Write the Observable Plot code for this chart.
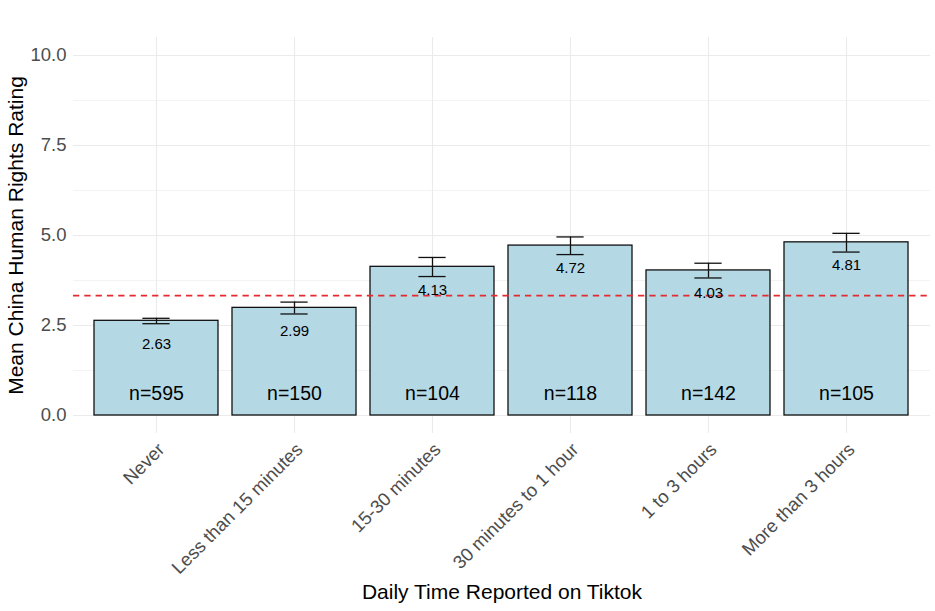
<!DOCTYPE html>
<html>
<head>
<meta charset="utf-8">
<script src="https://cdn.jsdelivr.net/npm/d3@7"></script>
<script src="https://cdn.jsdelivr.net/npm/@observablehq/plot@0.6"></script>
<style>
  html, body { margin: 0; padding: 0; background: #fff; }
  #chart svg { display: block; }
</style>
</head>
<body>
<div id="chart"></div>
<script>
const categories = ["Never", "Less than 15 minutes", "15-30 minutes", "30 minutes to 1 hour", "1 to 3 hours", "More than 3 hours"];
const means = [2.63, 2.99, 4.13, 4.72, 4.03, 4.81];
const lowerCI = [2.55, 2.82, 3.86, 4.47, 3.82, 4.54];
const upperCI = [2.70, 3.15, 4.39, 4.96, 4.23, 5.06];
const counts = [595, 150, 104, 118, 142, 105];
const overallMean = 3.33;
const yTicks = [0, 2.5, 5, 7.5, 10];
const yMinorTicks = [1.25, 3.75, 6.25, 8.75];
const nLabelY = 0.6;

const data = categories.map((c, i) => ({cat: c, mean: means[i], lo: lowerCI[i], hi: upperCI[i], n: counts[i]}));

const W = 935, H = 611;
const mL = 73, mR = 5, mT = 37, mB = 178;
const step = (W - mL - mR) / 6.2;
const bw = step * 0.9;
const ebInset = (bw - step * 0.2) / 2;

const chart = Plot.plot({
  width: W,
  height: H,
  marginLeft: mL,
  marginRight: mR,
  marginTop: mT,
  marginBottom: mB,
  style: {fontFamily: "'Liberation Sans', Arial, sans-serif", background: "#fff"},
  x: {domain: categories, paddingInner: 0.1, paddingOuter: 0.15, label: null},
  y: {domain: [-0.5, 10.5], label: null},
  marks: [
    Plot.gridY(yMinorTicks, {stroke: "#ebebeb", strokeOpacity: 1, strokeWidth: 0.6}),
    Plot.gridY(yTicks, {stroke: "#ebebeb", strokeOpacity: 1, strokeWidth: 1.1}),
    Plot.gridX(categories, {stroke: "#ebebeb", strokeOpacity: 1, strokeWidth: 1.1}),
    Plot.barY(data, {x: "cat", y: "mean", fill: "#b4d9e5", stroke: "#111", strokeWidth: 1.3}),
    Plot.ruleX(data, {x: "cat", y1: "lo", y2: "hi", stroke: "#111", strokeWidth: 1.3}),
    Plot.tickY(data, {x: "cat", y: "lo", stroke: "#111", strokeWidth: 1.3, insetLeft: ebInset, insetRight: ebInset}),
    Plot.tickY(data, {x: "cat", y: "hi", stroke: "#111", strokeWidth: 1.3, insetLeft: ebInset, insetRight: ebInset}),
    Plot.ruleY([overallMean], {stroke: "#e42b2f", strokeOpacity: 1, strokeWidth: 1.8, strokeDasharray: "6.3,5"}),
    Plot.text(data, {x: "cat", y: "mean", text: d => d.mean.toFixed(2), dy: 23, fontSize: 15, fill: "#000"}),
    Plot.text(data, {x: "cat", y: () => nLabelY, text: d => "n=" + d.n, fontSize: 19.5, fill: "#000"}),
    Plot.axisY(yTicks, {tickFormat: d3.format(".1f"), tickSize: 0, tickPadding: 7, fontSize: 18.5, fill: "#4d4d4d", label: null}),
    Plot.axisX({tickSize: 0, tickPadding: 10, tickRotate: -45, fontSize: 18.5, fill: "#4d4d4d", label: null, dx: 5, dy: 3}),
    Plot.text(["Daily Time Reported on Tiktok"], {frameAnchor: "bottom", dy: 159, fontSize: 21, fill: "#000", textAnchor: "middle", lineAnchor: "middle"}),
    Plot.text(["Mean China Human Rights Rating"], {frameAnchor: "left", dx: -57, rotate: -90, fontSize: 21, fill: "#000", textAnchor: "middle", lineAnchor: "middle"})
  ]
});
document.getElementById("chart").appendChild(chart);
</script>
</body>
</html>
